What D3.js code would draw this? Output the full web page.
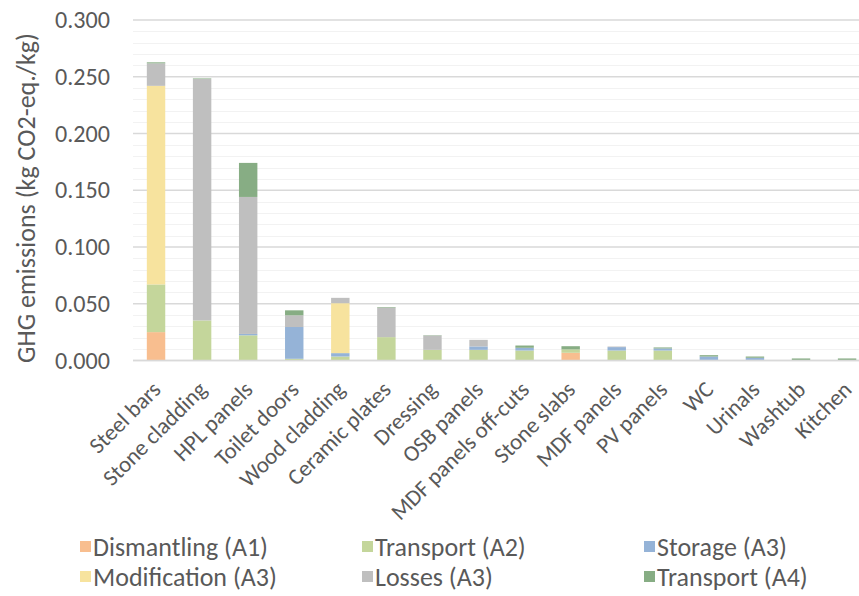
<!DOCTYPE html>
<html>
<head>
<meta charset="utf-8">
<script src="https://cdn.jsdelivr.net/npm/d3@7/dist/d3.min.js"></script>
<style>
  body { margin: 0; background: #fff; }
  text { font-family: Carlito, Calibri, Lato, "Open Sans", sans-serif; fill: #595959; }
</style>
</head>
<body>
<script>
// data
const categories = ["Steel bars", "Stone cladding", "HPL panels", "Toilet doors", "Wood cladding",
  "Ceramic plates", "Dressing", "OSB panels", "MDF panels off-cuts", "Stone slabs", "MDF panels",
  "PV panels", "WC", "Urinals", "Washtub", "Kitchen"]

const dismantlingA1 = [0.025, 0, 0, 0, 0, 0, 0, 0, 0, 0.0068, 0, 0, 0, 0, 0, 0]
const transportA2 = [0.042, 0.0353, 0.0222, 0.0015, 0.0035, 0.0206, 0.0094, 0.0094, 0.0088, 0.003, 0.0088, 0.0088, 0.0005, 0.0005, 0.0003, 0.0003]
const storageA3 = [0, 0, 0.0012, 0.028, 0.003, 0, 0, 0.003, 0.0024, 0, 0.003, 0.0018, 0.003, 0.0019, 0, 0]
const modificationA3 = [0.175, 0, 0, 0, 0.044, 0, 0, 0, 0, 0, 0, 0, 0, 0, 0, 0]
const lossesA3 = [0.0198, 0.2127, 0.1207, 0.0103, 0.0047, 0.026, 0.0126, 0.0058, 0, 0, 0.0005, 0, 0, 0, 0, 0]
const transportA4 = [0.0009, 0.0005, 0.030, 0.0044, 0, 0.0005, 0.0003, 0, 0.002, 0.0028, 0, 0.0009, 0.0012, 0.0011, 0.0015, 0.0015]

const seriesNames = ["Dismantling (A1)", "Transport (A2)", "Storage (A3)", "Modification (A3)", "Losses (A3)", "Transport (A4)"]
const seriesValues = [dismantlingA1, transportA2, storageA3, modificationA3, lossesA3, transportA4]
const seriesColors = ["#F8BE8F", "#C4D69B", "#95B3D7", "#F7E39E", "#BFBFBF", "#87AD84"]

const yTicks = [0, 0.05, 0.1, 0.15, 0.2, 0.25, 0.3]

// layout
const W = 859, H = 596
const plotLeft = 133, plotTop = 20, plotBottom = 360.5
const stepW = 46.07

const svg = d3.select("body").append("svg")
  .attr("width", W)
  .attr("height", H)

// set font size so that one sample text gets the wanted width
function fitFont(sel, sample, target) {
  const probe = svg.append("text").attr("font-size", "100px").text(sample)
  const w = probe.node().getComputedTextLength()
  probe.remove()
  sel.attr("font-size", (100 * target / w).toFixed(2) + "px")
}

const x = d3.scaleBand()
  .domain(categories)
  .range([plotLeft, plotLeft + stepW * categories.length])
  .paddingInner(0.6)
  .paddingOuter(0.3)

const y = d3.scaleLinear()
  .domain([0, 0.3])
  .range([plotBottom, plotTop])

// minor then major gridlines
const minor = d3.range(1, 30).map(d => d / 100).filter(d => Math.round(d * 100) % 5 != 0)
svg.append("g").selectAll("line").data(minor).join("line")
  .attr("x1", plotLeft).attr("x2", W)
  .attr("y1", d => Math.round(y(d)) + 0.5).attr("y2", d => Math.round(y(d)) + 0.5)
  .attr("stroke", "#F2F2F2").attr("stroke-width", 1)

svg.append("g").selectAll("line").data(yTicks).join("line")
  .attr("x1", plotLeft).attr("x2", W)
  .attr("y1", d => y(d)).attr("y2", d => y(d))
  .attr("stroke", "#D9D9D9").attr("stroke-width", 1.5)

// stacked bars
const rows = categories.map((c, i) => {
  const r = {cat: c}
  seriesNames.forEach((s, j) => r[s] = seriesValues[j][i])
  return r
})
const stacked = d3.stack().keys(seriesNames)(rows)

svg.append("g").selectAll("g").data(stacked).join("g")
  .attr("fill", (d, i) => seriesColors[i])
  .selectAll("rect").data(d => d).join("rect")
    .attr("x", d => x(d.data.cat))
    .attr("width", x.bandwidth())
    .attr("y", d => y(d[1]))
    .attr("height", d => y(d[0]) - y(d[1]))

// baseline
svg.append("line")
  .attr("x1", plotLeft).attr("x2", W)
  .attr("y1", y(0)).attr("y2", y(0))
  .attr("stroke", "#D9D9D9").attr("stroke-width", 1.5)

// y axis labels
const yAxis = d3.axisLeft(y).tickValues(yTicks).tickFormat(d3.format(".3f")).tickSize(0).tickPadding(0)
const yg = svg.append("g").attr("transform", "translate(110,0)").call(yAxis)
yg.select(".domain").remove()
yg.selectAll("text").attr("fill", "#595959")
  .style("font-family", "Carlito, Calibri, Lato, 'Open Sans', sans-serif")
fitFont(yg.selectAll("text"), "0.300", 55)
yg.attr("font-size", null)

const yTitle = svg.append("text")
  .attr("transform", "translate(26,198) rotate(-90)")
  .attr("text-anchor", "middle")
  .attr("dominant-baseline", "central")
  .text("GHG emissions (kg CO2-eq./kg)")
fitFont(yTitle, "GHG emissions (kg CO2-eq./kg)", 330)

// x axis labels
const xl = svg.append("g").selectAll("text").data(categories).join("text")
  .attr("transform", d => "translate(" + (x(d) + x.bandwidth() / 2 + 6) + ",391) rotate(-45)")
  .attr("text-anchor", "end")
  .text(d => d)
fitFont(xl, "Wood cladding", 138)

// legend
const legendX = [80, 362, 644]
const legendY = [541, 571]
const lg = svg.append("g").selectAll("g").data(seriesNames).join("g")
  .attr("transform", (d, i) => "translate(" + legendX[i % 3] + "," + legendY[Math.floor(i / 3)] + ")")
lg.append("rect").attr("width", 11).attr("height", 11).attr("fill", (d, i) => seriesColors[i])
const lt = lg.append("text").attr("x", 13).attr("y", 6)
  .attr("dominant-baseline", "central")
  .text(d => d)
fitFont(lt, "Dismantling (A1)", 175)
</script>
</body>
</html>
